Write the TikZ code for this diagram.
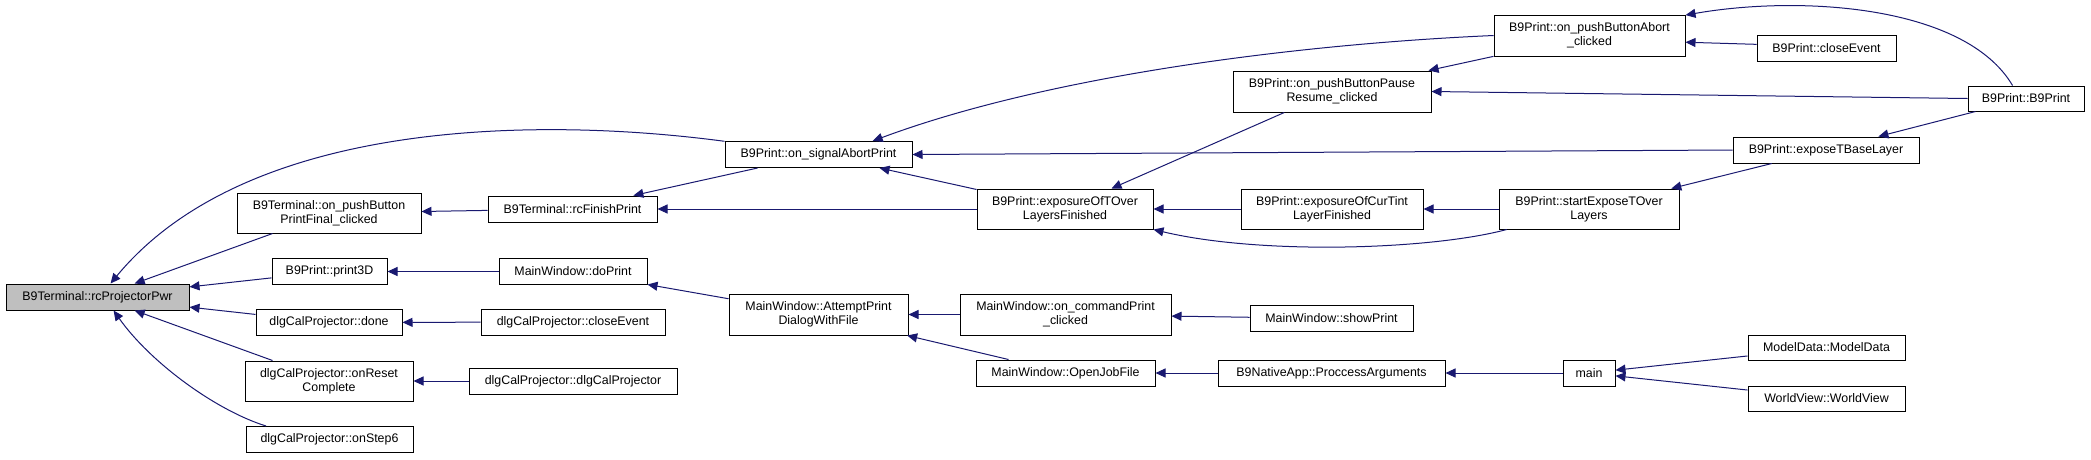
\documentclass[tikz,border=0pt]{standalone}
\usepackage{fontspec}
\setmainfont{Liberation Sans}
\usetikzlibrary{arrows.meta,calc}
\definecolor{edgeblue}{HTML}{191970}
\definecolor{rootgray}{HTML}{BFBFBF}
\begin{document}
\begin{tikzpicture}[x=1pt,y=-1pt,
  box/.style={draw=black,line width=1pt,fill=white,inner sep=0pt,align=center,
    font=\fontsize{12.4}{14.3}\selectfont},
  rootbox/.style={box,fill=rootgray},
  edge/.style={draw=edgeblue,line width=1pt,-{Triangle[length=10pt,width=9pt]}}]
\useasboundingbox (0,0) rectangle (2091,459);
% column 0
\node[rootbox,minimum width=183pt,minimum height=26pt] (root) at (97.5,297) {B9Terminal::rcProjectorPwr};
% column 1
\node[box,minimum width=184pt,minimum height=40pt] (pf) at (329,213) {B9Terminal::on\_pushButton\\PrintFinal\_clicked};
\node[box,minimum width=115pt,minimum height=26pt] (p3d) at (329.5,271.5) {B9Print::print3D};
\node[box,minimum width=146pt,minimum height=26pt] (done) at (329,322.5) {dlgCalProjector::done};
\node[box,minimum width=168pt,minimum height=40pt] (reset) at (329,381) {dlgCalProjector::onReset\\Complete};
\node[box,minimum width=167pt,minimum height=26pt] (step6) at (329.5,439.5) {dlgCalProjector::onStep6};
% column 2
\node[box,minimum width=169pt,minimum height=26pt] (finish) at (572.5,209) {B9Terminal::rcFinishPrint};
\node[box,minimum width=148pt,minimum height=26pt] (doprint) at (573,271.5) {MainWindow::doPrint};
\node[box,minimum width=184pt,minimum height=26pt] (dclose) at (573,322) {dlgCalProjector::closeEvent};
\node[box,minimum width=208pt,minimum height=26pt] (dlg) at (573,381) {dlgCalProjector::dlgCalProjector};
% column 3
\node[box,minimum width=187pt,minimum height=26pt] (abortp) at (818.5,154.5) {B9Print::on\_signalAbortPrint};
\node[box,minimum width=179pt,minimum height=41pt] (attempt) at (818.5,314.5) {MainWindow::AttemptPrint\\DialogWithFile};
% column 4
\node[box,minimum width=176pt,minimum height=40pt] (tover) at (1065,209) {B9Print::exposureOfTOver\\LayersFinished};
\node[box,minimum width=211pt,minimum height=41pt] (cmdprint) at (1065.5,314.5) {MainWindow::on\_commandPrint\\\_clicked};
\node[box,minimum width=179pt,minimum height=26pt] (openjob) at (1065.5,373) {MainWindow::OpenJobFile};
% column 5
\node[box,minimum width=198pt,minimum height=41pt] (pause) at (1332,91.5) {B9Print::on\_pushButtonPause\\Resume\_clicked};
\node[box,minimum width=182pt,minimum height=40pt] (curtint) at (1332,209) {B9Print::exposureOfCurTint\\LayerFinished};
\node[box,minimum width=163pt,minimum height=26pt] (showprint) at (1331.5,318.5) {MainWindow::showPrint};
\node[box,minimum width=227pt,minimum height=26pt] (proc) at (1331.5,373) {B9NativeApp::ProccessArguments};
% column 6
\node[box,minimum width=191pt,minimum height=41pt] (abort) at (1589.5,35.5) {B9Print::on\_pushButtonAbort\\\_clicked};
\node[box,minimum width=180pt,minimum height=40pt] (start) at (1589,209) {B9Print::startExposeTOver\\Layers};
\node[box,minimum width=52pt,minimum height=26pt] (main) at (1589,373) {main};
% column 7
\node[box,minimum width=139pt,minimum height=26pt] (bclose) at (1826.5,48) {B9Print::closeEvent};
\node[box,minimum width=186pt,minimum height=26pt] (tbase) at (1826,150) {B9Print::exposeTBaseLayer};
\node[box,minimum width=157pt,minimum height=25pt] (model) at (1826.5,347.5) {ModelData::ModelData};
\node[box,minimum width=157pt,minimum height=25pt] (world) at (1826.5,398.5) {WorldView::WorldView};
% column 8
\node[box,minimum width=116pt,minimum height=25pt] (b9print) at (2026,98.5) {B9Print::B9Print};

% edges into root
\draw[edge] (abortp.172) .. controls (550,118) and (250,115) .. (root.46);
\draw[edge] (pf) -- (root);
\draw[edge] (p3d) -- (root);
\draw[edge] (done) -- (root);
\draw[edge] (reset) -- (root);
\draw[edge] (step6.168) .. controls (215,410) and (150,362) .. (root.-40);
% column 1/2
\draw[edge] (finish) -- (pf);
\draw[edge] (doprint) -- (p3d);
\draw[edge] (dclose) -- (done);
\draw[edge] (dlg) -- (reset);
\draw[edge] (abortp) -- (finish);
\draw[edge] (tover) -- (finish);
\draw[edge] (attempt) -- (doprint);
% into abortp
\draw[edge] (abort.west) .. controls (1300,44) and (1050,75) .. (abortp.14);
\draw[edge] (tbase.west) -- (abortp.east);
\draw[edge] (tover) -- (abortp);
% into attempt
\draw[edge] (cmdprint) -- (attempt);
\draw[edge] (openjob) -- (attempt);
% into tover
\draw[edge] (pause) -- (tover);
\draw[edge] (curtint) -- (tover);
\draw[edge] (start.194) .. controls (1430,250) and (1260,255) .. (tover.south east);
% column 4/5
\draw[edge] (showprint) -- (cmdprint);
\draw[edge] (proc) -- (openjob);
\draw[edge] (abort) -- (pause);
\draw[edge] (b9print.west) -- (pause.east);
\draw[edge] (start) -- (curtint);
\draw[edge] (main) -- (proc);
% column 6/7/8
\draw[edge] (bclose.177) -- (abort.-4);
\draw[edge] (b9print.136) .. controls (1965,5) and (1800,-5) .. (abort.12);
\draw[edge] (tbase) -- (start);
\draw[edge] (b9print) -- (tbase);
\draw[edge] (model) -- (main);
\draw[edge] (world) -- (main);
\end{tikzpicture}
\end{document}
